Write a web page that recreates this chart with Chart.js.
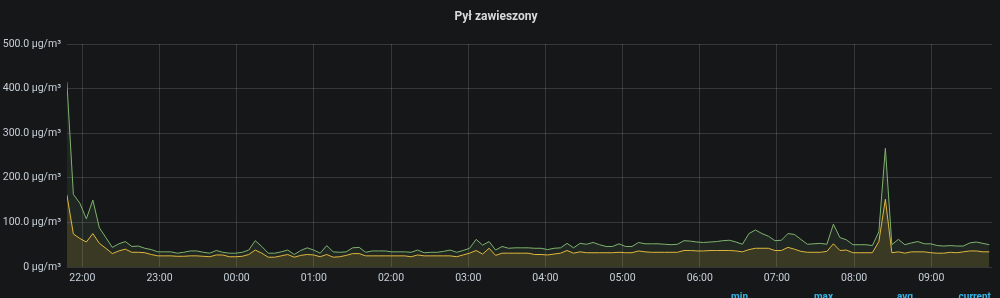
<!DOCTYPE html>
<html>
<head>
<meta charset="utf-8">
<script src="https://cdn.jsdelivr.net/npm/chart.js@4.4.1/dist/chart.umd.min.js"></script>
<style>
  html, body { margin: 0; padding: 0; background: #161719; }
  canvas { display: block; }
</style>
</head>
<body>
<canvas id="chart" width="1000" height="298"></canvas>
<script>
const TITLE = 'Pył zawieszony';
const UNIT = 'µg/m³';
const HOUR_LABELS = ['22:00', '23:00', '00:00', '01:00', '02:00', '03:00', '04:00', '05:00', '06:00', '07:00', '08:00', '09:00'];
const LEGEND_HEADERS = ['min', 'max', 'avg', 'current'];

// samples, roughly every 5 min, first one at ~21:48
const START_MIN = -12;   // minutes relative to 22:00
const STEP_MIN = 5.05;

const seriesGreen = [
  415, 163, 143, 108, 150, 88, 66, 44, 52, 57, 46, 47, 42, 39, 34, 34, 34, 31, 33, 36, 36, 33, 31, 37,
  33, 31, 31, 33, 38, 59, 46, 31, 31, 34, 38, 28, 37, 43, 38, 31, 48, 34, 33, 34, 43, 44, 33, 36,
  36, 36, 34, 34, 34, 33, 38, 32, 33, 33, 35, 38, 33, 37, 42, 62, 49, 57, 38, 46, 42, 43, 43, 43,
  42, 42, 39, 42, 43, 53, 43, 53, 51, 55, 50, 46, 46, 52, 46, 46, 55, 52, 52, 52, 51, 50, 51, 59,
  58, 56, 55, 56, 57, 59, 60, 56, 51, 75, 83, 75, 69, 59, 60, 75, 73, 62, 51, 52, 53, 51, 96, 66,
  61, 50, 50, 50, 48, 79, 266, 50, 62, 50, 54, 57, 52, 52, 48, 47, 48, 47, 47, 54, 56, 53, 50
];

const seriesYellow = [
  162, 74, 64, 56, 75, 53, 42, 30, 36, 40, 33, 33, 32, 28, 25, 25, 25, 24, 24, 25, 25, 24, 23, 27,
  27, 23, 23, 24, 28, 38, 31, 22, 22, 25, 28, 22, 26, 28, 27, 23, 28, 22, 23, 26, 30, 30, 25, 25,
  25, 25, 25, 25, 25, 23, 27, 25, 25, 25, 25, 25, 23, 27, 31, 37, 29, 42, 26, 31, 31, 31, 31, 31,
  28, 28, 27, 29, 31, 37, 31, 34, 32, 32, 32, 32, 32, 33, 32, 32, 36, 34, 33, 33, 33, 33, 33, 37,
  37, 36, 36, 37, 37, 37, 37, 36, 34, 39, 42, 42, 42, 37, 37, 44, 40, 35, 33, 33, 33, 35, 52, 37,
  38, 32, 32, 32, 32, 57, 152, 32, 34, 31, 34, 34, 34, 32, 31, 31, 33, 32, 34, 36, 36, 34, 34
];

const toPoints = arr => arr.map((v, i) => ({ x: START_MIN + i * STEP_MIN, y: v }));

const bgPlugin = {
  id: 'bg',
  beforeDraw(chart) {
    const { ctx, width, height } = chart;
    ctx.save();
    ctx.fillStyle = '#161719';
    ctx.fillRect(0, 0, width, height);
    ctx.restore();
  }
};

// grafana legend table header, mostly cut off by the panel bottom
const legendHeadPlugin = {
  id: 'legendHead',
  afterDraw(chart) {
    const { ctx } = chart;
    const rightEdges = [748, 833, 913, 991];
    ctx.save();
    ctx.font = 'bold 10px Roboto';
    ctx.fillStyle = '#33b5e5';
    ctx.textAlign = 'right';
    ctx.textBaseline = 'alphabetic';
    LEGEND_HEADERS.forEach((t, i) => ctx.fillText(t, rightEdges[i], 300));
    ctx.restore();
  }
};

new Chart(document.getElementById('chart'), {
  type: 'line',
  data: {
    datasets: [
      {
        label: 'PM10',
        data: toPoints(seriesGreen),
        borderColor: '#7eb26d',
        backgroundColor: 'rgba(126,178,109,0.1)',
        borderWidth: 1,
        pointRadius: 0,
        tension: 0,
        fill: 'origin',
      },
      {
        label: 'PM2.5',
        data: toPoints(seriesYellow),
        borderColor: '#eab839',
        backgroundColor: 'rgba(234,184,57,0.13)',
        borderWidth: 1,
        pointRadius: 0,
        tension: 0,
        fill: 'origin',
      },
    ],
  },
  options: {
    responsive: false,
    animation: false,
    devicePixelRatio: 1,
    layout: { padding: { left: 0, right: 8, top: 0, bottom: 14 } },
    plugins: {
      legend: { display: false },
      tooltip: { enabled: false },
      title: {
        display: true,
        text: TITLE,
        color: '#d8d9da',
        font: { family: 'Roboto', size: 12, weight: 'bold' },
        padding: { top: 10, bottom: 19.6 },
      },
    },
    scales: {
      x: {
        type: 'linear',
        min: -11.9,
        max: 707.2,
        afterBuildTicks: axis => { axis.ticks = HOUR_LABELS.map((_, i) => ({ value: i * 60 })); },
        afterFit: scale => { scale.height = 17; },
        ticks: {
          autoSkip: false,
          maxRotation: 0,
          padding: 5,
          color: '#c7d0d9',
          font: { family: 'Roboto', size: 10.5 },
          callback: (v) => HOUR_LABELS[Math.round(v / 60)],
        },
        grid: { color: 'rgba(255,255,255,0.14)', drawTicks: false },
        border: { display: false },
      },
      y: {
        min: 0,
        max: 500,
        afterFit: scale => { scale.width = 67; },
        ticks: {
          stepSize: 100,
          padding: 6,
          color: '#c7d0d9',
          font: { family: 'Roboto', size: 10.5 },
          callback: v => (v === 0 ? '0 ' : v.toFixed(1) + ' ') + UNIT,
        },
        grid: { color: 'rgba(255,255,255,0.14)', drawTicks: false },
        border: { display: false },
      },
    },
  },
  plugins: [bgPlugin, legendHeadPlugin],
});
</script>
</body>
</html>
